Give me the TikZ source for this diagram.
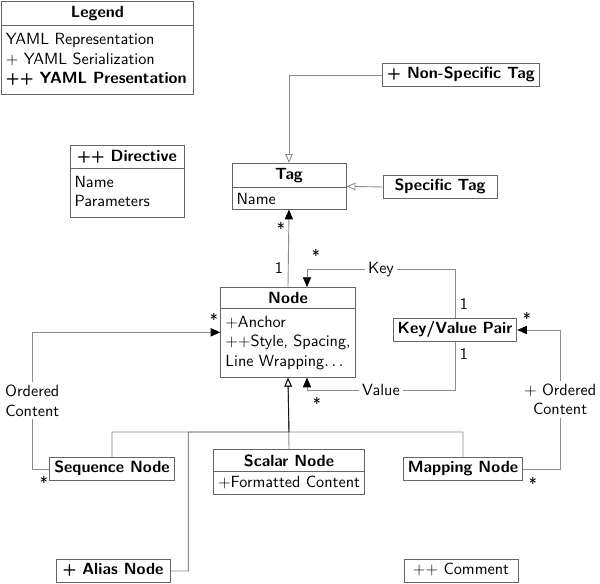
\documentclass[tikz,border=0pt]{standalone}
\usepackage{amsmath,amssymb}
\usepackage{tikz}
\usetikzlibrary{arrows.meta,positioning,calc,shapes.multipart}

\begin{document}
\begin{tikzpicture}[
x=0.6667pt, y=-0.6667pt,
font=\sffamily\fontsize{10.8}{13}\selectfont,
cls/.style={rectangle split, rectangle split parts=2, draw=black!60, line width=0.6pt, rectangle split part align={center,left}, minimum width=76pt, inner xsep=3pt, inner ysep=3pt},
box/.style={draw=black!60, line width=0.6pt, font=\sffamily\bfseries\fontsize{10.8}{13}\selectfont, minimum width=76pt, text height=7.8pt, text depth=2.6pt, inner xsep=3pt, inner ysep=2.6pt},
mult/.style={inner sep=1pt},
lbl/.style={fill=white, inner sep=2pt, align=center},
link/.style={draw=black!45, line width=0.6pt},
assoc/.style={link, -{Triangle[length=6.5pt, width=5.5pt, color=black]}},
inherit/.style={draw=black, draw opacity=0.45, line width=0.6pt, -{Triangle[open, length=6pt, width=5pt]}}
]
\useasboundingbox (0,0) rectangle (600,584);

% -------- Legend --------
\node[cls, anchor=north west, minimum width=128pt] (legend) at (1,1)
  {\textbf{Legend}\nodepart{two}\begin{tabular}{@{}l@{}}YAML Representation\\+ YAML Serialization\\\textbf{++ YAML Presentation}\end{tabular}};

\node[cls, anchor=north] (directive) at (127,145)
  {\textbf{++ Directive}\nodepart{two}\begin{tabular}{@{}l@{}}Name\\Parameters\end{tabular}};

% -------- Tags --------
\node[cls, anchor=north] (tag) at (289,163) {\textbf{Tag}\nodepart{two}Name};
\node[box] (nonspec) at (461,75) {+ Non-Specific Tag};
\node[box] (spec) at (440,187) {Specific Tag};

\draw[inherit] (nonspec.west) -| (tag.north);
\draw[inherit] (spec.west) -- (tag.east);

% -------- Node --------
\node[cls, anchor=north] (node) at (288,287)
  {\textbf{Node}\nodepart{two}\begin{tabular}{@{}l@{}}+Anchor\\++Style, Spacing,\\Line Wrapping$\ldots$\end{tabular}};
\node[box] (kv) at (455,330) {Key/Value Pair};

\draw[assoc] (node.north) -- (tag.south);
\node[mult] (mtag) at (281,228) {*};
\node[mult] (mnode) at (279,268) {1};

\coordinate (keyin) at ($(node.north)+(19,0)$);
\coordinate (valin) at ($(node.south)+(19,0)$);
\draw[assoc] (kv.north) -- ++(0,-48) -| node[lbl, pos=0.25] (keylbl) {Key} (keyin);
\draw[assoc] (kv.south) -- ++(0,48) -| node[lbl, pos=0.25] (vallbl) {Value} (valin);
\node[mult] (mkeyn) at (316,255) {*};
\node[mult] (mkeykv) at (464,304) {1};
\node[mult] (mvalkv) at (464,354) {1};
\node[mult] (mvaln) at (317,403) {*};

% -------- Node kinds --------
\node[box] (seq) at (112,469) {Sequence Node};
\node[cls, anchor=north] (scalar) at (289,449) {\textbf{Scalar Node}\nodepart{two}+Formatted Content};
\node[box] (map) at (463,469) {Mapping Node};
\node[box] (alias) at (113,571) {+ Alias Node};
\node[box, font=\sffamily\fontsize{10.8}{13}\selectfont] (comment) at (461,571) {++ Comment};

\coordinate (fork) at (289,432);
\draw[inherit] (seq.north) |- (fork) -- (node.south);
\draw[inherit] (scalar.north) -- (node.south);
\draw[inherit] (map.north) |- (fork) -- (node.south);
\draw[inherit] (alias.east) -- ++(18,0) |- (fork) -- (node.south);

\draw[assoc] (seq.west) -- ++(-17,0) |- node[lbl, pos=0.25] (seqlbl) {Ordered\\Content} (node.west);
\node[mult] (mseqn) at (214,319) {*};
\node[mult] (mseq) at (44,482) {*};

\draw[assoc] (map.east) -- ++(37,0) |- node[lbl, pos=0.25] (maplbl) {+ Ordered\\Content} (kv.east);
\node[mult] (mkv) at (527,318) {*};
\node[mult] (mmap) at (533,483) {*};

\end{tikzpicture}
\end{document}
